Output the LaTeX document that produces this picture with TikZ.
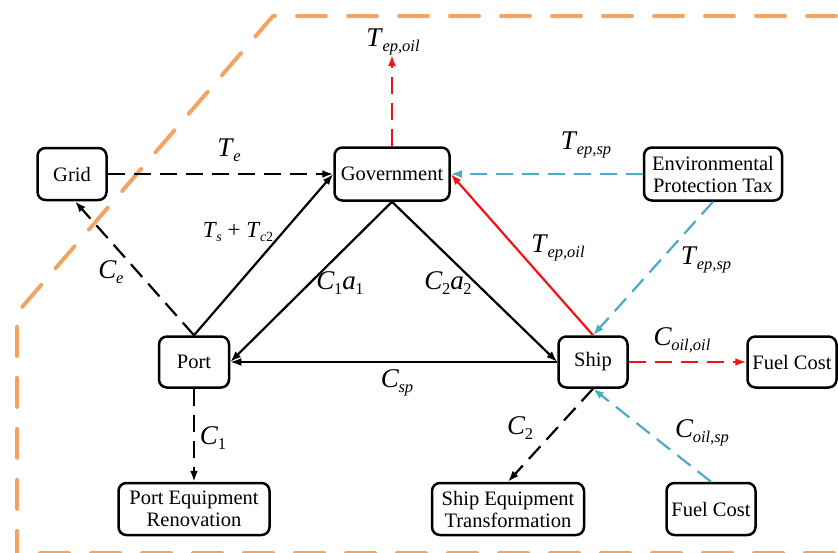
\documentclass[tikz,border=0pt]{standalone}
\usepackage{fontspec}
\setmainfont{Liberation Serif}
\usetikzlibrary{arrows.meta,calc}
\definecolor{orangeb}{RGB}{242,164,100}
\definecolor{cyanb}{RGB}{75,172,198}
\definecolor{redb}{RGB}{240,20,20}
\newcommand{\Sym}[2]{\textit{#1}\kern-0.5pt\raisebox{-5pt}{\fontsize{16.5}{16.5}\selectfont\textit{#2}}}
\newcommand{\SymS}[2]{\textit{#1}\kern-0.5pt\raisebox{-4.5pt}{\fontsize{14}{14}\selectfont\textit{#2}}}
\tikzset{
  box/.style={draw, line width=2.5pt, rounded corners=8pt, align=center,
    font=\fontsize{20.5}{22}\selectfont, inner sep=0pt},
  conn/.style={line width=2.2pt, -{Latex[length=11pt,width=8pt]}},
  dsh/.style={dash pattern=on 17pt off 9pt},
  lbl/.style={font=\fontsize{27}{27}\selectfont, inner sep=0pt},
  lbls/.style={font=\fontsize{23}{23}\selectfont, inner sep=0pt},
}
\begin{document}
\begin{tikzpicture}[x=1pt,y=-1pt]
\useasboundingbox (0,0) rectangle (838,552);
% orange boundary
\draw[orangeb, line width=4pt, line cap=round, dash pattern=on 29pt off 22pt]
  (836,16) -- (273,16) -- (17,313) -- (17,560);
\draw[orangeb, line width=4pt, line cap=round, dash pattern=on 29pt off 22pt]
  (40,553) -- (838,553);
% nodes
\node[box, minimum width=69pt, minimum height=52pt] (grid) at (72,174) {Grid};
\node[box, minimum width=115pt, minimum height=53pt] (gov) at (392,174) {Government};
\node[box, minimum width=138pt, minimum height=53pt] (ept) at (713,174) {Environmental\\Protection Tax};
\node[box, minimum width=70pt, minimum height=51pt] (port) at (194,362) {Port};
\node[box, minimum width=151pt, minimum height=52pt] (per) at (194,509) {Port Equipment\\Renovation};
\node[box, minimum width=69pt, minimum height=51pt] (ship) at (593,362) {Ship};
\node[box, minimum width=89pt, minimum height=51pt] (fc1) at (792,362) {Fuel Cost};
\node[box, minimum width=152pt, minimum height=52pt] (set) at (508,509) {Ship Equipment\\Transformation};
\node[box, minimum width=89pt, minimum height=52pt] (fc2) at (711,509) {Fuel Cost};
\coordinate (top) at (392,55);
% connectors
\draw[conn, dsh] (grid.east) -- (gov.west);
\draw[conn, dsh] (port.north) -- ($(grid.south)+(3,0)$);
\draw[conn] (port.north) -- (gov.west);
\draw[conn] (gov.south) -- (port.east);
\draw[conn] (gov.south) -- (ship.west);
\draw[conn] (ship.west) -- (port.east);
\draw[conn, redb] (ship.north) -- (gov.east);
\draw[conn, redb, dsh] (gov.north) -- (top);
\draw[conn, cyanb, dsh] (ept.west) -- (gov.east);
\draw[conn, cyanb, dsh] (ept.south) -- (ship.north);
\draw[conn, redb, dsh] (ship.east) -- (fc1.west);
\draw[conn, cyanb, dsh] (fc2.north) -- (ship.south);
\draw[conn, dsh] (ship.south) -- (set.north);
\draw[conn, dsh] (port.south) -- (per.north);
% labels
\node[lbl] (l1) at (229,150) {\Sym{T}{e}};
\node[lbl] (l2) at (393,42) {\Sym{T}{ep,oil}};
\node[lbl] (l3) at (586,145) {\Sym{T}{ep,sp}};
\node[lbl] (l4) at (558,248) {\Sym{T}{ep,oil}};
\node[lbl] (l5) at (706,260) {\Sym{T}{ep,sp}};
\node[lbls] (l6) at (238,232) {\SymS{T}{s} + \SymS{T}{c\textup{2}}};
\node[lbl] (l7) at (111,272) {\Sym{C}{e}};
\node[lbl] (l8) at (340,283) {\Sym{C}{\textup{1}}\Sym{a}{\textup{1}}};
\node[lbl] (l9) at (448,283) {\Sym{C}{\textup{2}}\Sym{a}{\textup{2}}};
\node[lbl] (l10) at (397,383) {\Sym{C}{sp}};
\node[lbl] (l11) at (213,438) {\Sym{C}{\textup{1}}};
\node[lbl] (l12) at (520,428) {\Sym{C}{\textup{2}}};
\node[lbl] (l13) at (682,340) {\Sym{C}{oil,oil}};
\node[lbl] (l14) at (702,433) {\Sym{C}{oil,sp}};
\end{tikzpicture}
\end{document}
